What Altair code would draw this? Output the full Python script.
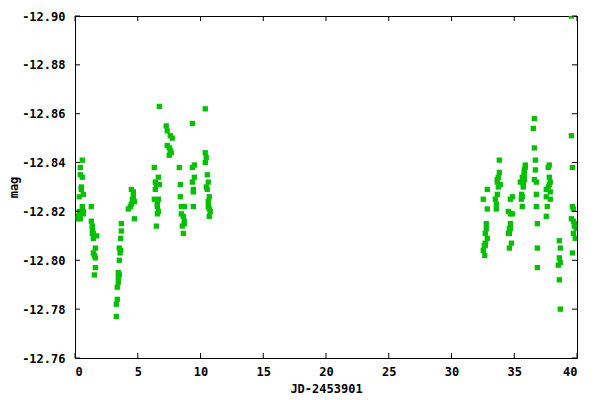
import altair as alt
import pandas as pd

# ---- data ----
jd = [
    # ~0.2-0.7
    0.58, 0.42, 0.42, 0.58, 0.50, 0.50, 0.66, 0.34, 0.58, 0.66, 0.34, 0.66, 0.26, 0.26, 0.42,
    # ~1.3-1.7
    1.30, 1.30, 1.38, 1.38, 1.46, 1.38, 1.73, 1.46, 1.62, 1.46, 1.54, 1.62, 1.62, 1.54,
    # ~3.3-3.7
    3.69, 3.69, 3.64, 3.53, 3.64, 3.59, 3.53, 3.45, 3.53, 3.45, 3.45, 3.37, 3.37, 3.29, 3.29,
    # ~4.2-4.8
    4.49, 4.65, 4.65, 4.57, 4.73, 4.49, 4.41, 4.25, 4.73,
    # ~6.3-6.8
    6.72, 6.32, 6.64, 6.40, 6.72, 6.48, 6.40, 6.64, 6.32, 6.56, 6.56, 6.64, 6.56, 6.48,
    # ~7.2-7.8
    7.27, 7.35, 7.59, 7.75, 7.35, 7.51, 7.59, 7.67, 7.51,
    # ~8.3-8.8
    8.31, 8.39, 8.39, 8.71, 8.47, 8.47, 8.63, 8.71, 8.71, 8.55, 8.63,
    # ~9.3-9.6
    9.35, 9.35, 9.51, 9.51, 9.35, 9.43, 9.43, 9.43,
    # ~10.3-10.8
    10.38, 10.38, 10.46, 10.38, 10.54, 10.62, 10.46, 10.54, 10.70, 10.62, 10.62, 10.70, 10.78, 10.70,
    # ~32.5-32.9
    32.85, 32.53, 32.85, 32.77, 32.77, 32.69, 32.85, 32.69, 32.61, 32.53, 32.69, 32.65,
    # ~33.5-33.9
    33.81, 33.81, 33.73, 33.65, 33.65, 33.89, 33.73, 33.65, 33.49, 33.57, 33.57,
    # ~34.5-34.9
    34.69, 34.85, 34.53, 34.85, 34.69, 34.69, 34.61, 34.69, 34.53, 34.61, 34.77, 34.61,
    # ~35.5-35.9
    35.88, 35.88, 35.80, 35.80, 35.80, 35.64, 35.80, 35.48, 35.72, 35.72, 35.59, 35.64, 35.56, 35.64,
    # ~36.5-36.9
    36.60, 36.52, 36.60, 36.68, 36.68, 36.60, 36.76, 36.76, 36.76, 36.84, 36.84, 36.84,
    # ~37.5-37.9
    37.79, 37.71, 37.79, 37.87, 37.79, 37.71, 37.55, 37.87, 37.55, 37.87, 37.63, 37.55,
    # ~38.5-38.7
    38.59, 38.67, 38.59, 38.67, 38.51, 38.59, 38.67,
    # ~39.5-39.9
    39.55, 39.55, 39.63, 39.63, 39.71, 39.55, 39.71, 39.86, 39.78, 39.94, 39.71, 39.86, 39.63,
]

mag = [
    -12.841, -12.838, -12.835, -12.834, -12.830, -12.829, -12.827, -12.826, -12.822, -12.820, -12.820, -12.819, -12.818, -12.817, -12.817,
    -12.822, -12.816, -12.814, -12.813, -12.811, -12.811, -12.810, -12.809, -12.805, -12.803, -12.802, -12.801, -12.797, -12.794,
    -12.815, -12.812, -12.809, -12.805, -12.804, -12.803, -12.800, -12.795, -12.794, -12.793, -12.791, -12.789, -12.784, -12.782, -12.777,
    -12.829, -12.828, -12.826, -12.825, -12.824, -12.823, -12.822, -12.821, -12.817,
    -12.863, -12.838, -12.834, -12.832, -12.831, -12.831, -12.829, -12.825, -12.825, -12.823, -12.822, -12.820, -12.819, -12.814,
    -12.855, -12.853, -12.851, -12.850, -12.847, -12.846, -12.845, -12.844, -12.843,
    -12.838, -12.831, -12.826, -12.822, -12.822, -12.819, -12.818, -12.816, -12.815, -12.814, -12.811,
    -12.856, -12.838, -12.839, -12.834, -12.832, -12.829, -12.828, -12.822,
    -12.862, -12.844, -12.842, -12.840, -12.835, -12.832, -12.830, -12.829, -12.826, -12.824, -12.822, -12.821, -12.820, -12.818,
    -12.829, -12.825, -12.821, -12.815, -12.813, -12.811, -12.809, -12.807, -12.806, -12.804, -12.806, -12.802,
    -12.841, -12.836, -12.834, -12.833, -12.832, -12.831, -12.830, -12.827, -12.825, -12.823, -12.821,
    -12.825, -12.826, -12.820, -12.819, -12.819, -12.815, -12.813, -12.813, -12.811, -12.811, -12.807, -12.805,
    -12.839, -12.838, -12.837, -12.836, -12.835, -12.834, -12.833, -12.832, -12.831, -12.830, -12.827, -12.826, -12.825, -12.822,
    -12.858, -12.854, -12.846, -12.841, -12.837, -12.833, -12.832, -12.827, -12.822, -12.815, -12.805, -12.797,
    -12.839, -12.838, -12.834, -12.832, -12.831, -12.830, -12.829, -12.828, -12.826, -12.825, -12.822, -12.818,
    -12.808, -12.805, -12.801, -12.799, -12.798, -12.792, -12.780,
    -12.900, -12.851, -12.838, -12.822, -12.821, -12.817, -12.816, -12.815, -12.814, -12.813, -12.811, -12.809, -12.803,
]

x_ticks = [0, 5, 10, 15, 20, 25, 30, 35, 40]
y_ticks = [-12.90, -12.88, -12.86, -12.84, -12.82, -12.80, -12.78, -12.76]

W, H = 502, 342
FONT = "DejaVu Sans Mono"
TL = 5  # inward tick length

df = pd.DataFrame({"jd": jd, "mag": mag})
xt = pd.DataFrame({"t": x_ticks})
yt = pd.DataFrame({"t": y_ticks})

xs = alt.Scale(domain=[0, 40], nice=False, zero=False)
ys = alt.Scale(domain=[-12.90, -12.76], reverse=True, nice=False, zero=False)

x_axis = alt.Axis(title="JD-2453901", values=x_ticks, format="d",
                  ticks=False, domain=False, grid=False,
                  labelPadding=8, titlePadding=6)
y_axis = alt.Axis(title="mag", values=y_ticks,
                  labelExpr="replace(format(datum.value, '.2f'), '\u2212', '-')",
                  ticks=False, domain=False, grid=False,
                  labelPadding=10, titlePadding=1)

points = alt.Chart(df).mark_square(size=28, color="#00c000", opacity=1, clip=True).encode(
    x=alt.X("jd:Q", scale=xs, axis=x_axis),
    y=alt.Y("mag:Q", scale=ys, axis=y_axis),
)

tick_bottom = alt.Chart(xt).mark_rule(color="black", strokeWidth=1).encode(
    x=alt.X("t:Q", scale=xs, axis=x_axis), y=alt.value(H), y2=alt.value(H - TL))
tick_top = alt.Chart(xt).mark_rule(color="black", strokeWidth=1).encode(
    x=alt.X("t:Q", scale=xs, axis=x_axis), y=alt.value(0), y2=alt.value(TL))
tick_left = alt.Chart(yt).mark_rule(color="black", strokeWidth=1).encode(
    y=alt.Y("t:Q", scale=ys, axis=y_axis), x=alt.value(0), x2=alt.value(TL))
tick_right = alt.Chart(yt).mark_rule(color="black", strokeWidth=1).encode(
    y=alt.Y("t:Q", scale=ys, axis=y_axis), x=alt.value(W), x2=alt.value(W - TL))

chart = alt.layer(points, tick_bottom, tick_top, tick_left, tick_right).properties(
    width=W, height=H,
    autosize=alt.AutoSizeParams(type="none"),
    padding={"left": 67, "top": 8, "right": 15, "bottom": 40},
    background="white",
).configure_view(
    stroke="black", strokeWidth=1
).configure_axis(
    labelFont=FONT, labelFontSize=12, labelFontWeight="bold", labelColor="black",
    titleFont=FONT, titleFontSize=12, titleFontWeight="bold", titleColor="black",
)

chart.save("out.html", embed_options={"renderer": "svg", "actions": False})
